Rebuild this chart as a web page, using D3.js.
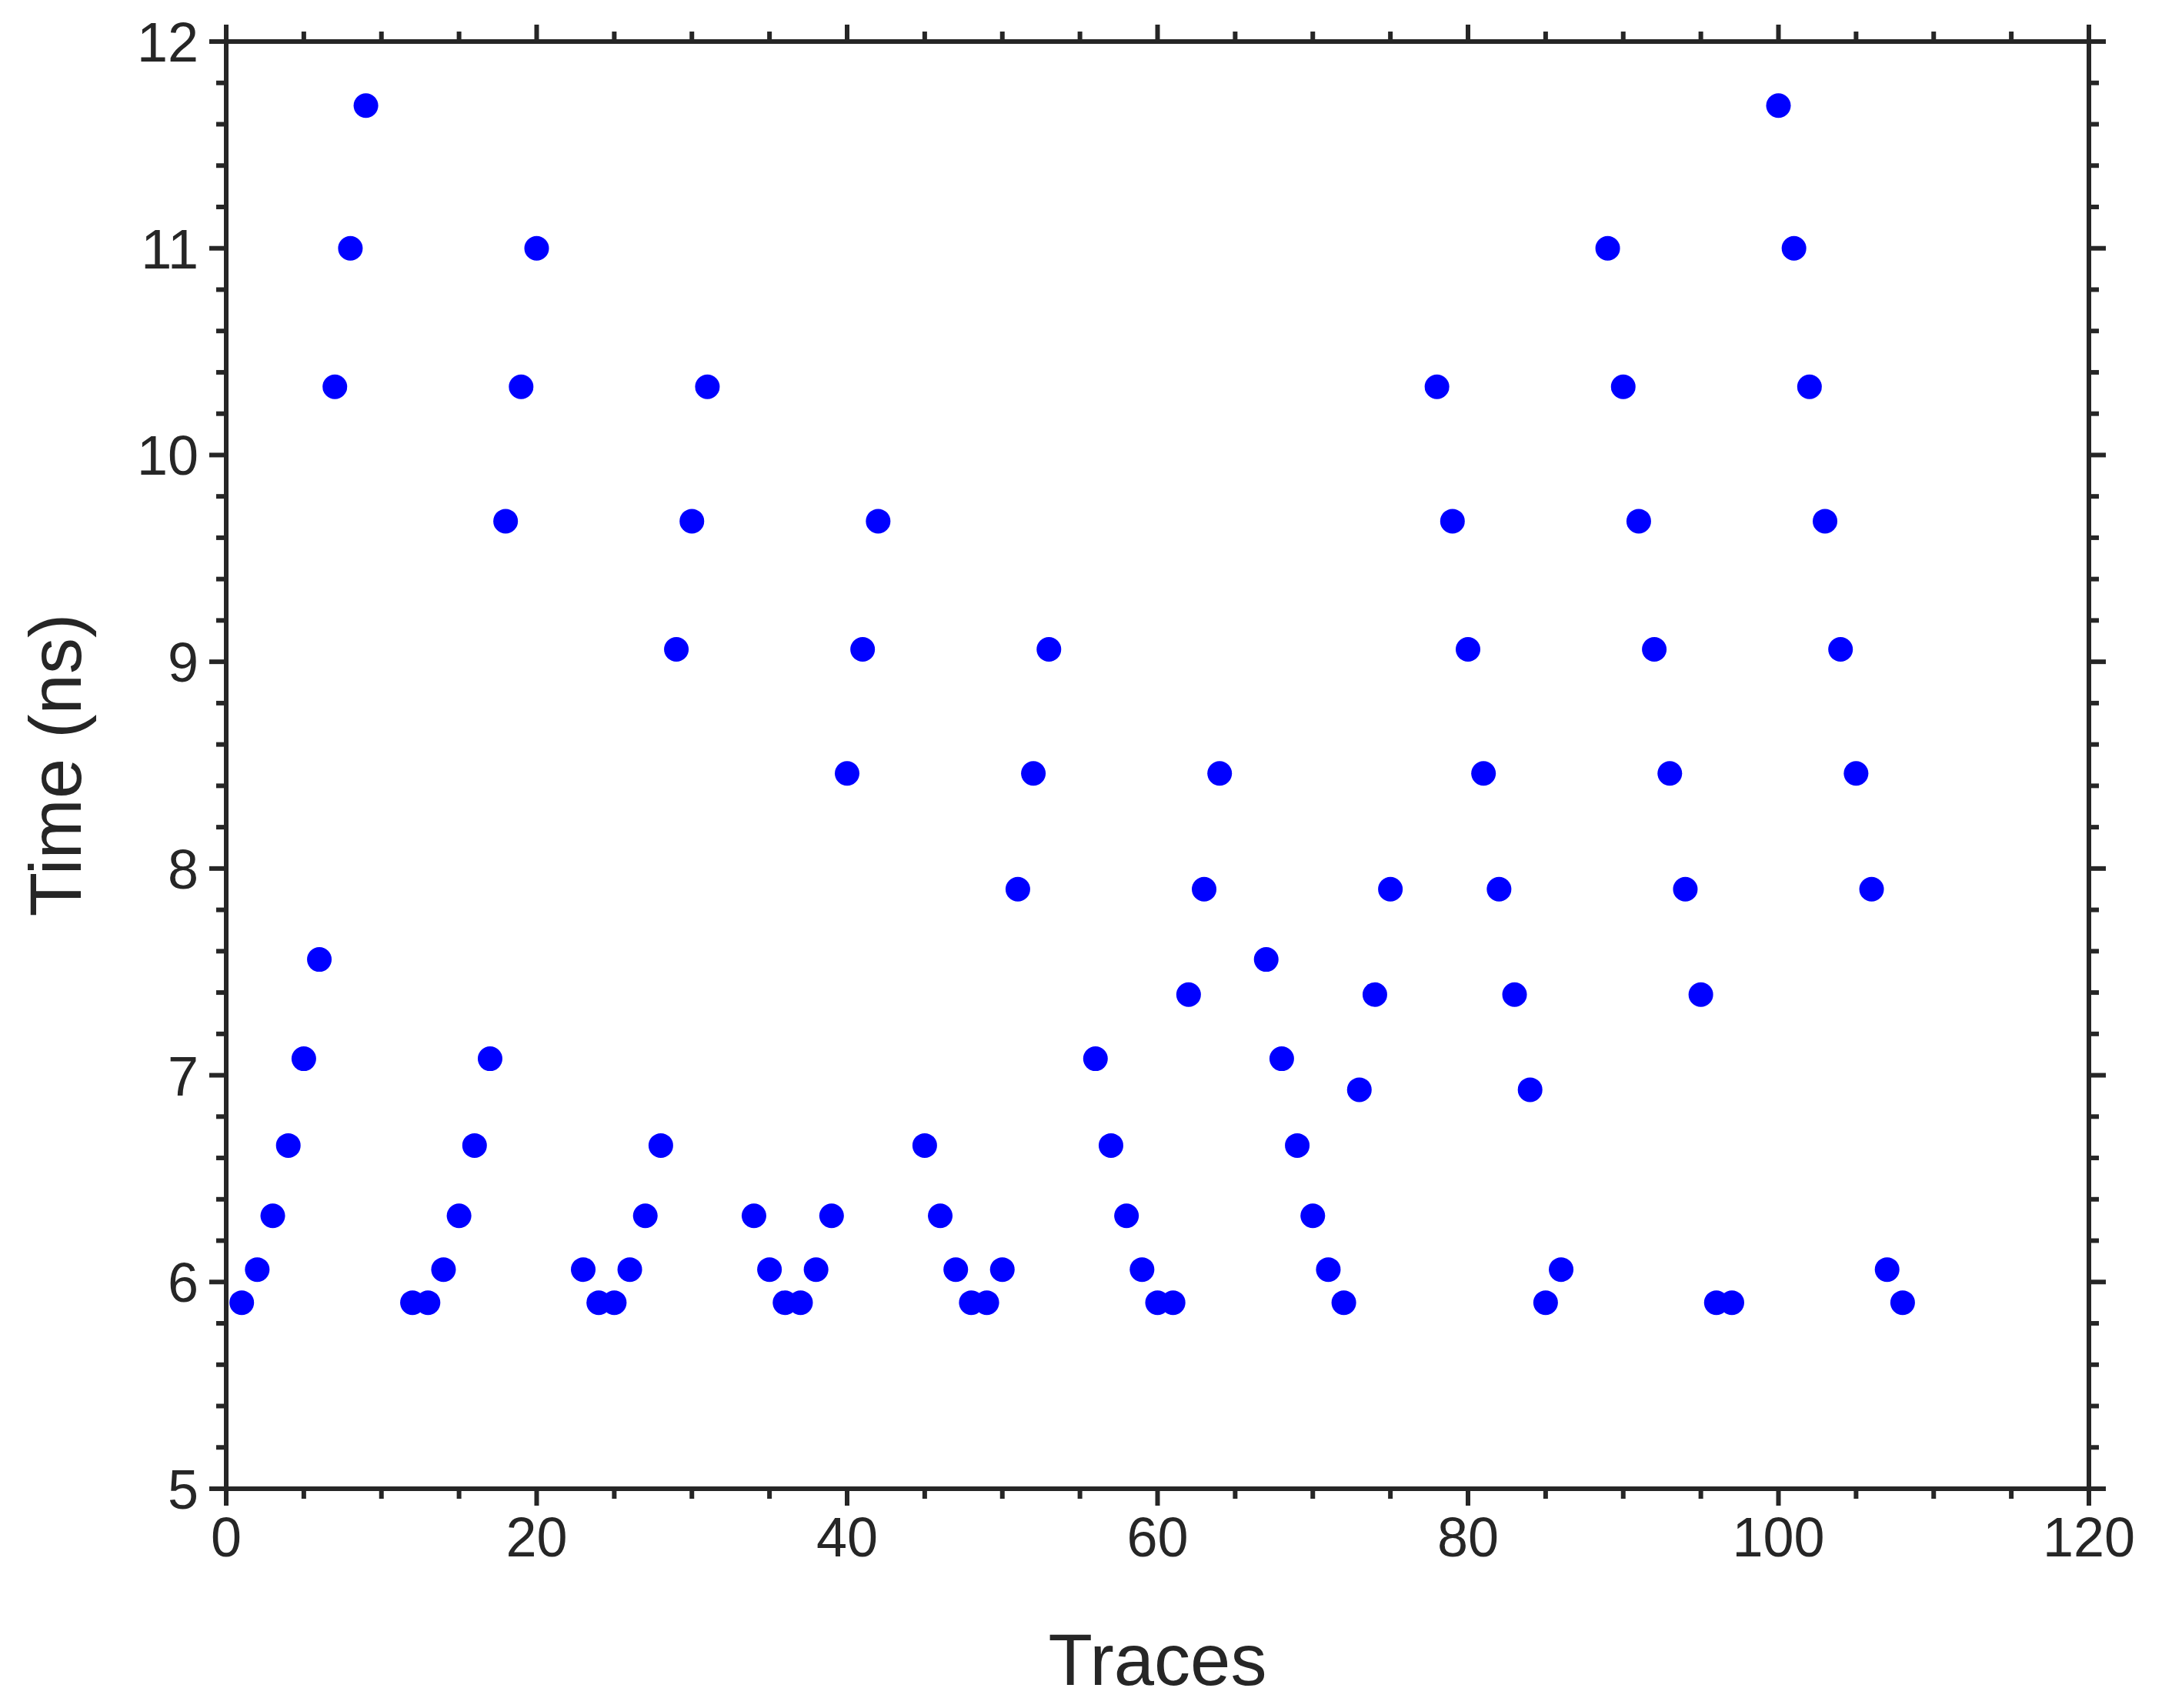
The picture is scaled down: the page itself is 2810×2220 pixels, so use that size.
<!DOCTYPE html>
<html><head><meta charset="utf-8">
<script src="https://cdn.jsdelivr.net/npm/d3@7"></script>
<style>body{margin:0;background:#fff}</style>
</head><body>
<svg id="chart" width="2810" height="2220"></svg>
<script>
const traces = [1,2,3,4,5,6,7,8,9, 12,13,14,15,16,17,18,19,20, 23,24,25,26,27,28,29,30,31,
  34,35,36,37,38,39,40,41,42, 45,46,47,48,49,50,51,52,53, 56,57,58,59,60,61,62,63,64,
  67,68,69,70,71,72,73,74,75, 78,79,80,81,82,83,84,85,86, 89,90,91,92,93,94,95,96,97,
  100,101,102,103,104,105,106,107,108];
const times = [5.9,6.06,6.32,6.66,7.08,7.56,10.33,11.0,11.69,
  5.9,5.9,6.06,6.32,6.66,7.08,9.68,10.33,11.0,
  6.06,5.9,5.9,6.06,6.32,6.66,9.06,9.68,10.33,
  6.32,6.06,5.9,5.9,6.06,6.32,8.46,9.06,9.68,
  6.66,6.32,6.06,5.9,5.9,6.06,7.9,8.46,9.06,
  7.08,6.66,6.32,6.06,5.9,5.9,7.39,7.9,8.46,
  7.56,7.08,6.66,6.32,6.06,5.9,6.93,7.39,7.9,
  10.33,9.68,9.06,8.46,7.9,7.39,6.93,5.9,6.06,
  11.0,10.33,9.68,9.06,8.46,7.9,7.39,5.9,5.9,
  11.69,11.0,10.33,9.68,9.06,8.46,7.9,6.06,5.9];
const xTicks = [0,20,40,60,80,100,120];
const yTicks = [5,6,7,8,9,10,11,12];

const L = 294, R = 2715, T = 54, B = 1935;
const ink = '#262626';
const svg = d3.select('#chart');
const x = d3.scaleLinear().domain([0,120]).range([L,R]);
const y = d3.scaleLinear().domain([5,12]).range([B,T]);
const font = '"Liberation Sans", Arial, sans-serif';

// ticks on all four sides, pointing outward
const major = 22, minor = 13;
const xMinor = d3.range(0,121,5), yMinor = d3.range(5,12.001,0.2);
const g = svg.append('g').attr('stroke', ink).attr('stroke-width', 6);
xMinor.forEach(v => {
  const len = v % 20 === 0 ? major : minor;
  g.append('line').attr('x1', x(v)).attr('x2', x(v)).attr('y1', B).attr('y2', B + len);
  g.append('line').attr('x1', x(v)).attr('x2', x(v)).attr('y1', T).attr('y2', T - len);
});
yMinor.forEach(v => {
  const len = Math.abs(v - Math.round(v)) < 1e-6 ? major : minor;
  g.append('line').attr('y1', y(v)).attr('y2', y(v)).attr('x1', L).attr('x2', L - len);
  g.append('line').attr('y1', y(v)).attr('y2', y(v)).attr('x1', R).attr('x2', R + len);
});
svg.append('rect').attr('x', L).attr('y', T).attr('width', R - L).attr('height', B - T)
  .attr('fill', 'none').attr('stroke', ink).attr('stroke-width', 6);

svg.selectAll('.xl').data(xTicks).enter().append('text')
  .attr('x', d => x(d)).attr('y', B + 88).attr('text-anchor', 'middle')
  .attr('font-family', font).attr('font-size', 72).attr('fill', ink).text(d => d);
svg.selectAll('.yl').data(yTicks).enter().append('text')
  .attr('x', L - 36).attr('y', d => y(d) + 26).attr('text-anchor', 'end')
  .attr('font-family', font).attr('font-size', 72).attr('fill', ink).text(d => d);

svg.append('text').attr('x', (L + R) / 2).attr('y', B + 255).attr('text-anchor', 'middle')
  .attr('font-family', font).attr('font-size', 94).attr('fill', ink).text('Traces');
svg.append('text').attr('transform', `translate(72,${(T + B) / 2}) rotate(-90)`)
  .attr('text-anchor', 'middle').attr('dy', '0.35em')
  .attr('font-family', font).attr('font-size', 94).attr('fill', ink).text('Time (ns)');

svg.selectAll('circle').data(traces).enter().append('circle')
  .attr('cx', d => x(d)).attr('cy', (d, i) => y(times[i])).attr('r', 16).attr('fill', '#0000ff');
</script>
</body></html>
